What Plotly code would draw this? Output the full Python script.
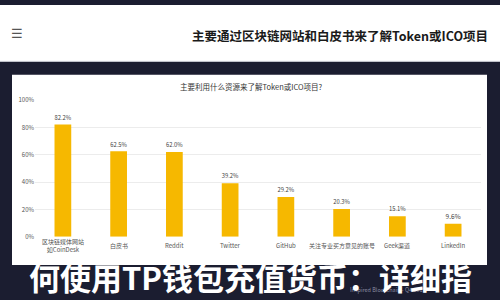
import plotly.graph_objects as go

categories = ["区块链媒体网站<br>如CoinDesk", "白皮书", "Reddit", "Twitter", "GitHub",
              "关注专业买方意见的账号", "Geek渠道", "LinkedIn"]
values = [82.2, 62.5, 62.0, 39.2, 29.2, 20.3, 15.1, 9.6]
y_ticks = [0, 20, 40, 60, 80, 100]
y_tick_labels = ["0%", "20%", "40%", "60%", "80%", "100%"]

header_title = "主要通过区块链网站和白皮书来了解Token或ICO项目"
chart_title = "主要利用什么资源来了解Token或ICO项目?"
overlay_text = "何使用TP钱包充值货币：详细指"
footer_text = "Inspired Blockchain - Q4 2017"

W, H = 500, 300
def py(p):
    return 1 - p / H
def px(p):
    return p / W

DARK = "#1b1d30"
BAR = "#f6b800"
FONT = "Noto Sans CJK SC"

fig = go.Figure()
fig.add_trace(go.Bar(
    x=categories, y=values,
    marker=dict(color=BAR, line=dict(width=0)),
    text=[f"{v:.1f}%" for v in values],
    textposition="outside",
    textfont=dict(size=6.5, color="#444", family=FONT),
    cliponaxis=False,
    hoverinfo="skip",
))

shapes = [
    dict(type="rect", xref="paper", yref="paper", x0=0, x1=1, y0=py(58), y1=1,
         fillcolor="white", line=dict(width=0), layer="below"),
    dict(type="line", xref="paper", yref="paper", x0=0, x1=1, y0=py(58), y1=py(58),
         line=dict(color="#e3e6ec", width=1), layer="below"),
    dict(type="rect", xref="paper", yref="paper", x0=px(12), x1=px(487), y0=py(268), y1=py(72),
         fillcolor="white", line=dict(width=0), layer="below"),
]

annotations = [
    dict(text="☰", xref="paper", yref="paper", x=px(17), y=py(29), showarrow=False,
         font=dict(size=13, color="#555", family="DejaVu Sans"), xanchor="center", yanchor="middle"),
    dict(text=f"<b>{header_title}</b>", xref="paper", yref="paper", x=px(490), y=py(31),
         showarrow=False, xanchor="right", yanchor="middle",
         font=dict(size=12.5, color="#1a1a1a", family=FONT)),
    dict(text=chart_title, xref="paper", yref="paper", x=px(251), y=py(84), showarrow=False,
         xanchor="center", yanchor="middle", font=dict(size=7.5, color="#333", family=FONT)),
    dict(text=footer_text, xref="paper", yref="paper", x=px(428), y=py(294), showarrow=False,
         xanchor="right", yanchor="middle", font=dict(size=5.5, color="#8a8ca0", family=FONT)),
]
for c in categories:
    annotations.append(dict(text=c, xref="x", yref="paper", x=c, y=py(248), showarrow=False,
                            xanchor="center", yanchor="middle",
                            font=dict(size=6, color="#555", family=FONT)))
annotations.append(dict(text=f"<b>{overlay_text}</b>", xref="paper", yref="paper", x=0.5, y=py(280),
                        showarrow=False, xanchor="center", yanchor="middle",
                        font=dict(size=31, color="white", family=FONT)))

fig.update_layout(
    width=W, height=H,
    margin=dict(l=0, r=0, t=0, b=0),
    paper_bgcolor=DARK,
    plot_bgcolor="rgba(0,0,0,0)",
    showlegend=False,
    bargap=0.7,
    shapes=shapes,
    annotations=annotations,
    xaxis=dict(domain=[px(35), px(481)], showticklabels=False, showgrid=False,
               zeroline=False, showline=False, ticks=""),
    yaxis=dict(domain=[py(239), py(98)], range=[0, 100], tickvals=y_ticks,
               ticktext=y_tick_labels, showgrid=True, gridcolor="#ececec", gridwidth=1,
               zeroline=False, showline=False, ticks="",
               tickfont=dict(size=6, color="#555", family=FONT)),
)

fig.write_html("out.html")
